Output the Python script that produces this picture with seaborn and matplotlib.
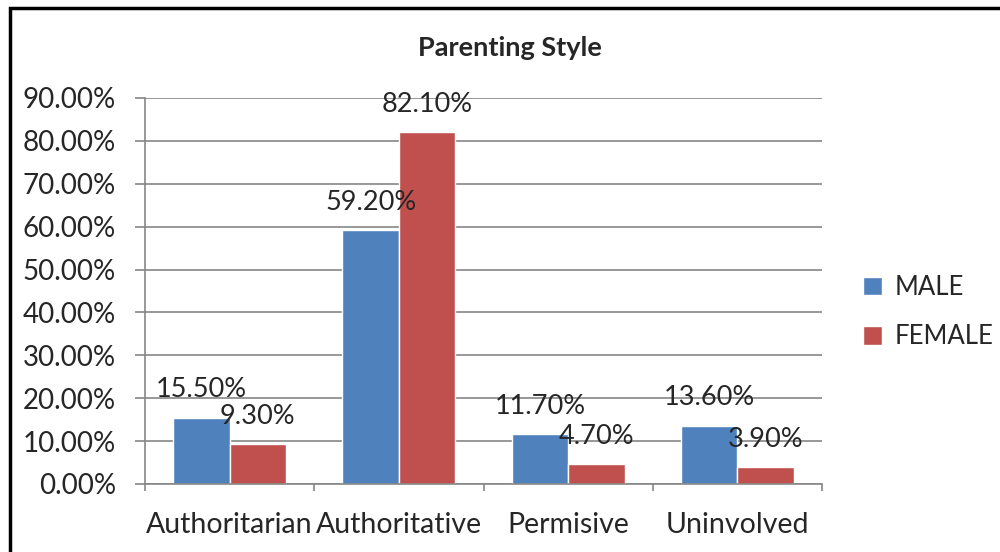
import pandas as pd
import matplotlib.pyplot as plt
import seaborn as sns
from matplotlib.patches import Rectangle
from matplotlib.ticker import PercentFormatter

styles = ['Authoritarian', 'Authoritative', 'Permisive', 'Uninvolved']
male = [15.5, 59.2, 11.7, 13.6]
female = [9.3, 82.1, 4.7, 3.9]
groups = ['MALE', 'FEMALE']
colors = ['#4F81BD', '#C0504D']

df = pd.DataFrame({
    'style': styles * 2,
    'pct': male + female,
    'gender': ['MALE'] * len(styles) + ['FEMALE'] * len(styles),
})

sns.set_style('white')
plt.rcParams['font.family'] = ['Lato', 'DejaVu Sans']

fig = plt.figure(figsize=(10, 5.52), dpi=100)
ax = fig.add_axes([0.145, 0.1232, 0.677, 0.6993])

sns.barplot(data=df, x='style', y='pct', hue='gender', hue_order=groups,
            palette=colors, width=2 / 3, saturation=1, ax=ax, legend=True)

for c in ax.containers:
    ax.bar_label(c, labels=[f'{v:.2f}%' for v in c.datavalues],
                 padding=11, fontsize=19.5)

ax.set_ylim(0, 90)
ax.set_xlim(-0.5, 3.5)
ax.set_yticks(range(0, 91, 10))
ax.yaxis.set_major_formatter(PercentFormatter(decimals=2))
ax.grid(axis='y', color='#868686', linewidth=1.2)
ax.set_axisbelow(True)
ax.set_xlabel('')
ax.set_ylabel('')

# category boundary ticks, like Excel
ax.set_xticks([-0.5, 0.5, 1.5, 2.5, 3.5], minor=True)
ax.tick_params(axis='x', which='minor', length=5, color='#868686', width=1.2, bottom=True)
ax.tick_params(axis='x', which='major', length=0, labelsize=20.5, pad=20)
ax.tick_params(axis='y', length=7, color='#868686', width=1.2, labelsize=20, pad=14, left=True)

for s in ['top', 'right']:
    ax.spines[s].set_visible(False)
for s in ['left', 'bottom']:
    ax.spines[s].set_color('#868686')
    ax.spines[s].set_linewidth(1.2)

leg = ax.legend(loc='center left', bbox_to_anchor=(1.026, 0.445), frameon=False,
                fontsize=18.5, handlelength=0.75, handleheight=0.75,
                handletextpad=0.5, labelspacing=0.95)

fig.text(0.51, 0.913, 'Parenting Style', ha='center', va='center',
         fontsize=19.5, fontweight='bold')

fig.patches.append(Rectangle((0.01, -0.05), 1.1, 1.035, transform=fig.transFigure,
                             fill=False, edgecolor='black', linewidth=2.5))

fig.savefig('out.png', dpi=100)
